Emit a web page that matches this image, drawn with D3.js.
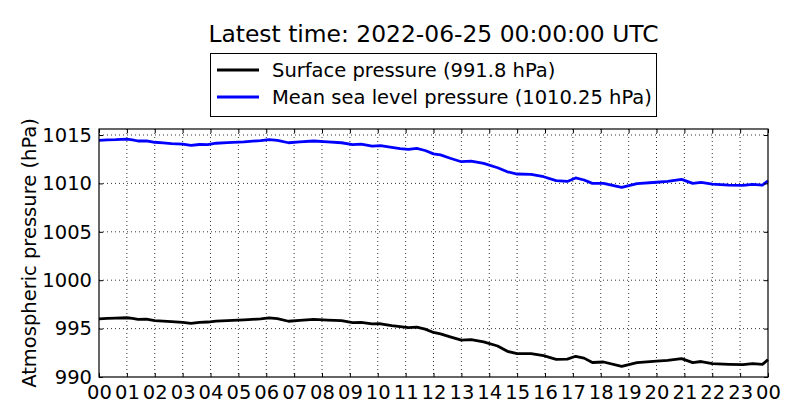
<!DOCTYPE html>
<html>
<head>
<meta charset="utf-8">
<script src="https://cdn.jsdelivr.net/npm/d3@7"></script>
<style>
  html, body { margin: 0; padding: 0; background: #fff; }
  svg { display: block; font-family: "DejaVu Sans", sans-serif; }
</style>
</head>
<body>
<svg id="chart" width="800" height="420"></svg>
<script>
// ---- data ----
const titleText = "Latest time: 2022-06-25 00:00:00 UTC";
const yLabel = "Atmospheric pressure (hPa)";
const seriesNames = ["Surface pressure (991.8 hPa)", "Mean sea level pressure (1010.25 hPa)"];
const seriesColors = ["#000000", "#0000ff"];

const hours = [0, 0.3, 0.6, 1.0, 1.2, 1.4, 1.7, 2.0, 2.3, 2.6, 3.0, 3.3, 3.6, 3.9, 4.2, 4.6, 5.2, 5.8, 6.1, 6.4,
  6.8, 7.2, 7.7, 8.2, 8.7, 9.1, 9.4, 9.8, 10.1, 10.5, 10.8, 11.1, 11.4, 11.7, 12.0, 12.25, 12.6, 13.0, 13.35, 13.8,
  14.3, 14.65, 15.0, 15.5, 15.95, 16.4, 16.8, 17.1, 17.4, 17.7, 18.1, 18.75, 19.3, 20.0, 20.4, 20.9, 21.3, 21.6, 22.0,
  22.6, 23.1, 23.45, 23.8, 24.0];

const surfacePressure = [996.0, 996.05, 996.08, 996.12, 996.05, 995.95, 995.97, 995.83, 995.78, 995.72, 995.65, 995.55,
  995.65, 995.68, 995.78, 995.83, 995.9, 996.0, 996.1, 996.02, 995.76, 995.85, 995.96, 995.88, 995.82, 995.62, 995.65,
  995.48, 995.5, 995.31, 995.2, 995.1, 995.15, 994.95, 994.6, 994.45, 994.14, 993.8, 993.86, 993.62, 993.2, 992.65,
  992.42, 992.42, 992.2, 991.83, 991.85, 992.14, 991.95, 991.5, 991.55, 991.1, 991.49, 991.63, 991.72, 991.9, 991.49,
  991.6, 991.38, 991.31, 991.28, 991.38, 991.3, 991.8];

const seaLevelPressure = [1014.45, 1014.5, 1014.52, 1014.58, 1014.5, 1014.38, 1014.4, 1014.25, 1014.18, 1014.1, 1014.05,
  1013.93, 1014.02, 1014.0, 1014.15, 1014.22, 1014.3, 1014.42, 1014.52, 1014.45, 1014.2, 1014.28, 1014.38, 1014.28,
  1014.2, 1014.0, 1014.05, 1013.86, 1013.9, 1013.72, 1013.6, 1013.52, 1013.62, 1013.4, 1013.05, 1012.95, 1012.6,
  1012.24, 1012.31, 1012.07, 1011.62, 1011.2, 1010.97, 1010.94, 1010.69, 1010.28, 1010.2, 1010.56, 1010.35, 1010.0,
  1010.0, 1009.6, 1009.97, 1010.12, 1010.2, 1010.42, 1010.0, 1010.1, 1009.93, 1009.83, 1009.8, 1009.9, 1009.83, 1010.25];

const xTickHours = d3.range(0, 25);
const xTickLabels = ["00","01","02","03","04","05","06","07","08","09","10","11","12","13","14","15","16","17","18","19","20","21","22","23","00"];
const yTicks = [990, 995, 1000, 1005, 1010, 1015];
const yDomain = [990, 1015.62];

// ---- layout ----
const svg = d3.select("#chart");
const L = 99, R = 768, T = 129, B = 377;
const x = d3.scaleLinear().domain([0, 24]).range([L, R]);
const y = d3.scaleLinear().domain(yDomain).range([B, T]);
const fs = 19.5;

// grid
const grid = svg.append("g");
grid.selectAll("line.vx").data(xTickHours.slice(1, -1)).join("line")
  .attr("x1", d => x(d)).attr("x2", d => x(d)).attr("y1", T).attr("y2", B)
  .attr("stroke", "#000").attr("stroke-width", 0.8).attr("stroke-dasharray", "1,3");
grid.selectAll("line.hy").data(yTicks.filter(v => v > 990)).join("line")
  .attr("x1", L).attr("x2", R).attr("y1", d => y(d)).attr("y2", d => y(d))
  .attr("stroke", "#000").attr("stroke-width", 0.8).attr("stroke-dasharray", "1,3");

// lines
const series = [surfacePressure, seaLevelPressure];
const line = d3.line().x((d, i) => x(hours[i])).y(d => y(d));
series.forEach((s, k) => {
  svg.append("path").datum(s).attr("d", line)
    .attr("fill", "none").attr("stroke", seriesColors[k]).attr("stroke-width", 2.8)
    .attr("stroke-linejoin", "round");
});

// axes (ticks inward, all sides)
const axB = d3.axisBottom(x).tickValues(xTickHours).tickFormat((d, i) => xTickLabels[i]).tickSizeInner(-4).tickSizeOuter(0).tickPadding(8);
const axT = d3.axisTop(x).tickValues(xTickHours).tickFormat("").tickSizeInner(-4).tickSizeOuter(0);
const axLf = d3.axisLeft(y).tickValues(yTicks).tickFormat(d3.format("d")).tickSizeInner(-4).tickSizeOuter(0).tickPadding(7);
const axRt = d3.axisRight(y).tickValues(yTicks).tickFormat("").tickSizeInner(-4).tickSizeOuter(0);

function style(g) {
  g.select(".domain").remove();
  g.selectAll("line").attr("stroke", "#000").attr("stroke-width", 1);
  g.selectAll("text").attr("font-size", fs).attr("fill", "#000").attr("font-family", "DejaVu Sans");
}
svg.append("g").attr("transform", `translate(0,${B})`).call(axB).call(style);
svg.append("g").attr("transform", `translate(0,${T})`).call(axT).call(style);
svg.append("g").attr("transform", `translate(${L},0)`).call(axLf).call(style);
svg.append("g").attr("transform", `translate(${R},0)`).call(axRt).call(style);

// frame
svg.append("rect").attr("x", L).attr("y", T).attr("width", R - L).attr("height", B - T)
  .attr("fill", "none").attr("stroke", "#000").attr("stroke-width", 1.2);

// y label
svg.append("text").attr("transform", `translate(36,${(T + B) / 2}) rotate(-90)`)
  .attr("text-anchor", "middle").attr("font-size", fs).text(yLabel);

// title
svg.append("text").attr("x", (L + R) / 2).attr("y", 42).attr("text-anchor", "middle")
  .attr("font-size", 23.4).text(titleText);

// legend
const lg = svg.append("g");
lg.append("rect").attr("x", 210.5).attr("y", 53.5).attr("width", 446).attr("height", 63)
  .attr("fill", "#fff").attr("stroke", "#000").attr("stroke-width", 1);
seriesNames.forEach((n, k) => {
  const yy = 70 + k * 27;
  lg.append("line").attr("x1", 217).attr("x2", 259).attr("y1", yy).attr("y2", yy)
    .attr("stroke", seriesColors[k]).attr("stroke-width", 2.8);
  lg.append("text").attr("x", 272).attr("y", yy + 7).attr("font-size", fs).text(n);
});
</script>
</body>
</html>
